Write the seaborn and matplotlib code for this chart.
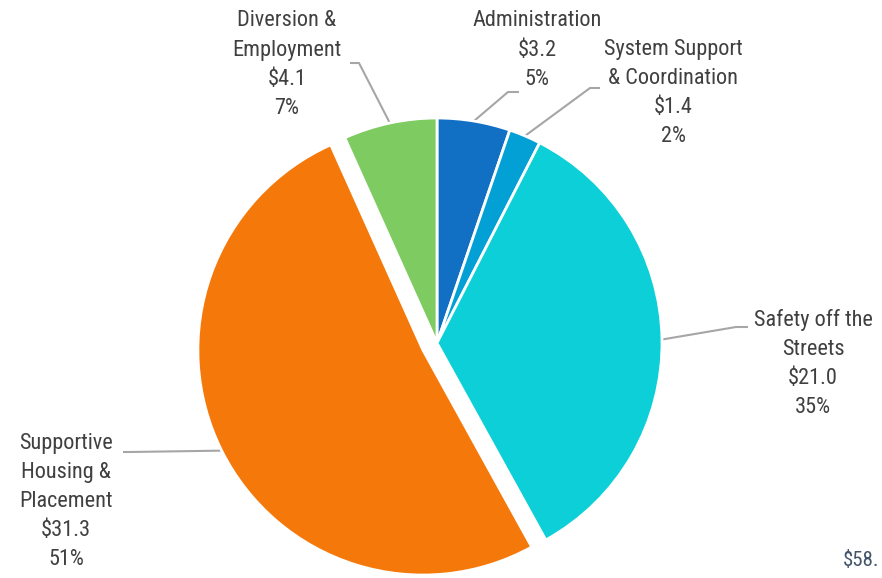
import matplotlib
matplotlib.use("Agg")
import matplotlib.pyplot as plt
import seaborn as sns
import numpy as np
from matplotlib import font_manager

# Budget categories (millions), drawn clockwise from 12 o'clock
categories = ["Administration", "System Support\n& Coordination", "Safety off the\nStreets",
              "Supportive\nHousing &\nPlacement", "Diversion &\nEmployment"]
amounts = [3.2, 1.4, 21.0, 31.3, 4.1]
percent_labels = ["5%", "2%", "35%", "51%", "7%"]
colors = ["#1170C4", "#03A0D6", "#0CCFD8", "#F5780A", "#7ECB61"]
explode_frac = [0, 0, 0, 0.07, 0]
total_note = "$58."

sns.set_theme(style="white")
installed = {f.name for f in font_manager.fontManager.ttflist}
family = "Roboto Condensed" if "Roboto Condensed" in installed else "Roboto"
plt.rcParams["font.family"] = [family, "DejaVu Sans"]

W, H = 882, 578
fig = plt.figure(figsize=(W / 100, H / 100), dpi=100)
ax = fig.add_axes([0, 0, 1, 1])

cx, cy, R = 437, H - 343, 225
wedges, _ = ax.pie(amounts, colors=colors, startangle=90, counterclock=False,
                   center=(cx, cy), radius=R, explode=[e * R for e in explode_frac],
                   wedgeprops=dict(edgecolor="white", linewidth=2), frame=True)
ax.set_xlim(0, W)
ax.set_ylim(0, H)
ax.set_aspect("equal")
ax.axis("off")

text_color = "#404040"
line_color = "#A6A6A6"
fs = 16

# label block centre (x, y of top line centre) and leader elbow (x, y) in pixels from top-left
label_pos = [(537, 21), (673, 49), (813, 320), (66, 443), (287, 21)]
elbows = [[(519, 92), (508, 92)],
          [(600, 88), (590, 88)],
          [(748, 327), (736, 327)],
          [(123, 452), (130, 452)],
          [(350, 63), (359, 63)]]
line_gap = 29.2

for w, cat, amt, pct, (lx, ly), elb in zip(wedges, categories, amounts, percent_labels,
                                           label_pos, elbows):
    lines = cat.split("\n") + [f"${amt:.1f}", pct]
    for i, t in enumerate(lines):
        ax.text(lx, H - (ly + i * line_gap), t, ha="center", va="center",
                fontsize=fs, color=text_color)
    mid = np.deg2rad((w.theta1 + w.theta2) / 2)
    wx = w.center[0] + w.r * np.cos(mid)
    wy = w.center[1] + w.r * np.sin(mid)
    xs = [p[0] for p in elb] + [wx]
    ys = [H - p[1] for p in elb] + [wy]
    ax.plot(xs, ys, color=line_color, linewidth=1.5, solid_capstyle="butt", zorder=0.5)

ax.text(843, H - 560, total_note, ha="left", va="center", fontsize=fs - 1, color="#44546A")

fig.savefig("out.png", dpi=100)
